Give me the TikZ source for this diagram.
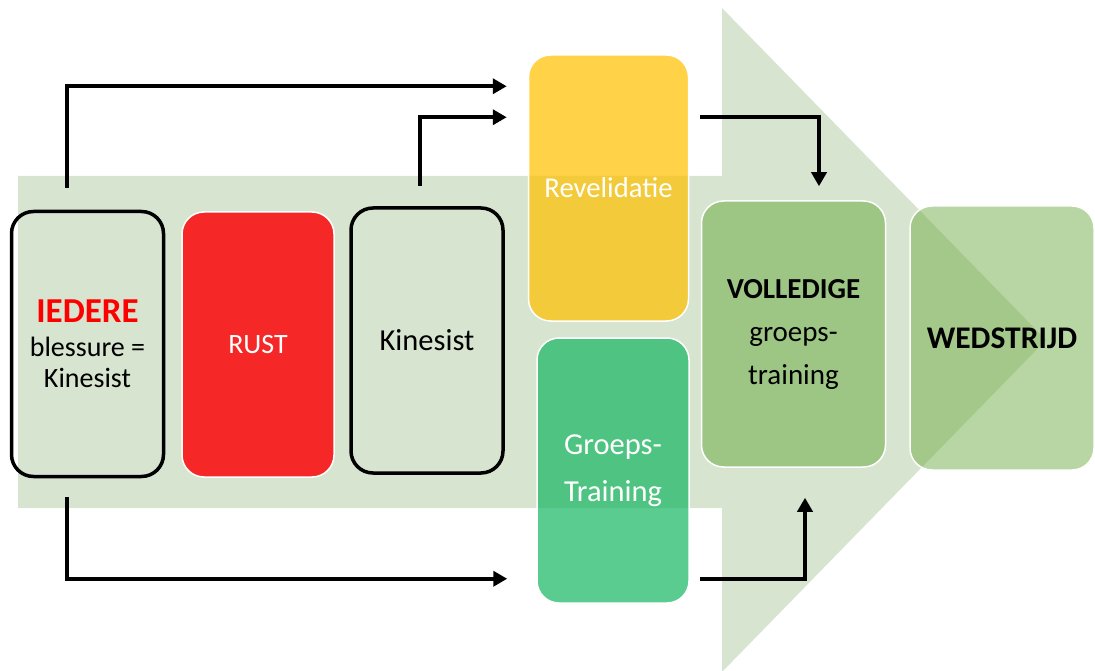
\documentclass[tikz,border=0pt]{standalone}
\usepackage{fontspec}
\setmainfont{Carlito}
\usetikzlibrary{arrows.meta}
\definecolor{bgreen}{HTML}{D7E4CF}
\definecolor{rustred}{HTML}{F52727}
\definecolor{iedred}{HTML}{FF0000}
\definecolor{yel}{HTML}{FFC000}
\definecolor{grn}{RGB}{24,183,99}
\definecolor{volgreen}{HTML}{9DC584}
\definecolor{wedgreen}{HTML}{70AD47}
\begin{document}
\begin{tikzpicture}[x=1pt,y=-1pt,
  box/.style={rectangle, rounded corners=22pt, inner sep=0pt, align=center,
    minimum width=152pt, minimum height=265pt},
  blackbox/.style={box, draw=black, line width=3.5pt},
  colbox/.style={box, draw=white, line width=1.5pt, text opacity=1},
  txt/.style={font=\fontsize{28}{31}\selectfont},
  conn/.style={line width=3.6pt, -{Triangle[length=14pt,width=15pt]}}]
\useasboundingbox (0,0) rectangle (1095,671);
% big arrow background
\fill[bgreen] (18,176) -- (722,176) -- (722,8) -- (1046,340) -- (722,672)
  -- (722,508) -- (18,508) -- cycle;
% boxes
\node[blackbox, txt] (iedere) at (87.5,344)
  {\textcolor{iedred}{\bfseries\fontsize{35}{35}\selectfont IEDERE}\\[3pt]blessure =\\Kinesist};
\node[colbox, fill=rustred, text=white, txt] (rust) at (258,344.5) {RUST};
\node[blackbox, font=\fontsize{30.5}{31}\selectfont] (kin) at (427,340.5) {Kinesist};
\node[colbox, fill=yel, fill opacity=0.72, text=white, font=\fontsize{28.7}{31}\selectfont,
  minimum width=160pt, minimum height=266pt] (rev) at (608.5,188) {Revelidatie};
\node[colbox, fill=grn, fill opacity=0.71, text=white,
  font=\fontsize{30.5}{47}\selectfont] (gt) at (613,470.5) {Groeps-\\Training};
\node[colbox, fill=volgreen, font=\fontsize{29}{43}\selectfont,
  minimum width=184pt, minimum height=266pt] (vol) at (793.5,334)
  {\textbf{VOLLEDIGE}\\groeps-\\training};
\node[colbox, fill=wedgreen, fill opacity=0.5, txt,
  minimum width=184pt, minimum height=264pt] (wed) at (1002,338)
  {\fontsize{31.5}{32}\selectfont\bfseries WEDSTRIJD};
% connectors
\draw[conn] ([xshift=-20.5pt,yshift=22pt]iedere.north) |- ([xshift=-21pt,yshift=-32pt]rev.north west);
\draw[conn] ([xshift=-7pt,yshift=20pt]kin.north) |- ([xshift=-21pt,yshift=-63pt]rev.north west);
\draw[conn] ([xshift=11pt,yshift=-63pt]rev.north east) -| ([xshift=25.5pt,yshift=14pt]vol.north);
\draw[conn] ([xshift=-20.5pt,yshift=-19pt]iedere.south) |- ([xshift=-29pt,yshift=25pt]gt.south west);
\draw[conn] ([xshift=10pt,yshift=25pt]gt.south east) -| ([xshift=11.5pt,yshift=-30pt]vol.south);
\end{tikzpicture}
\end{document}
